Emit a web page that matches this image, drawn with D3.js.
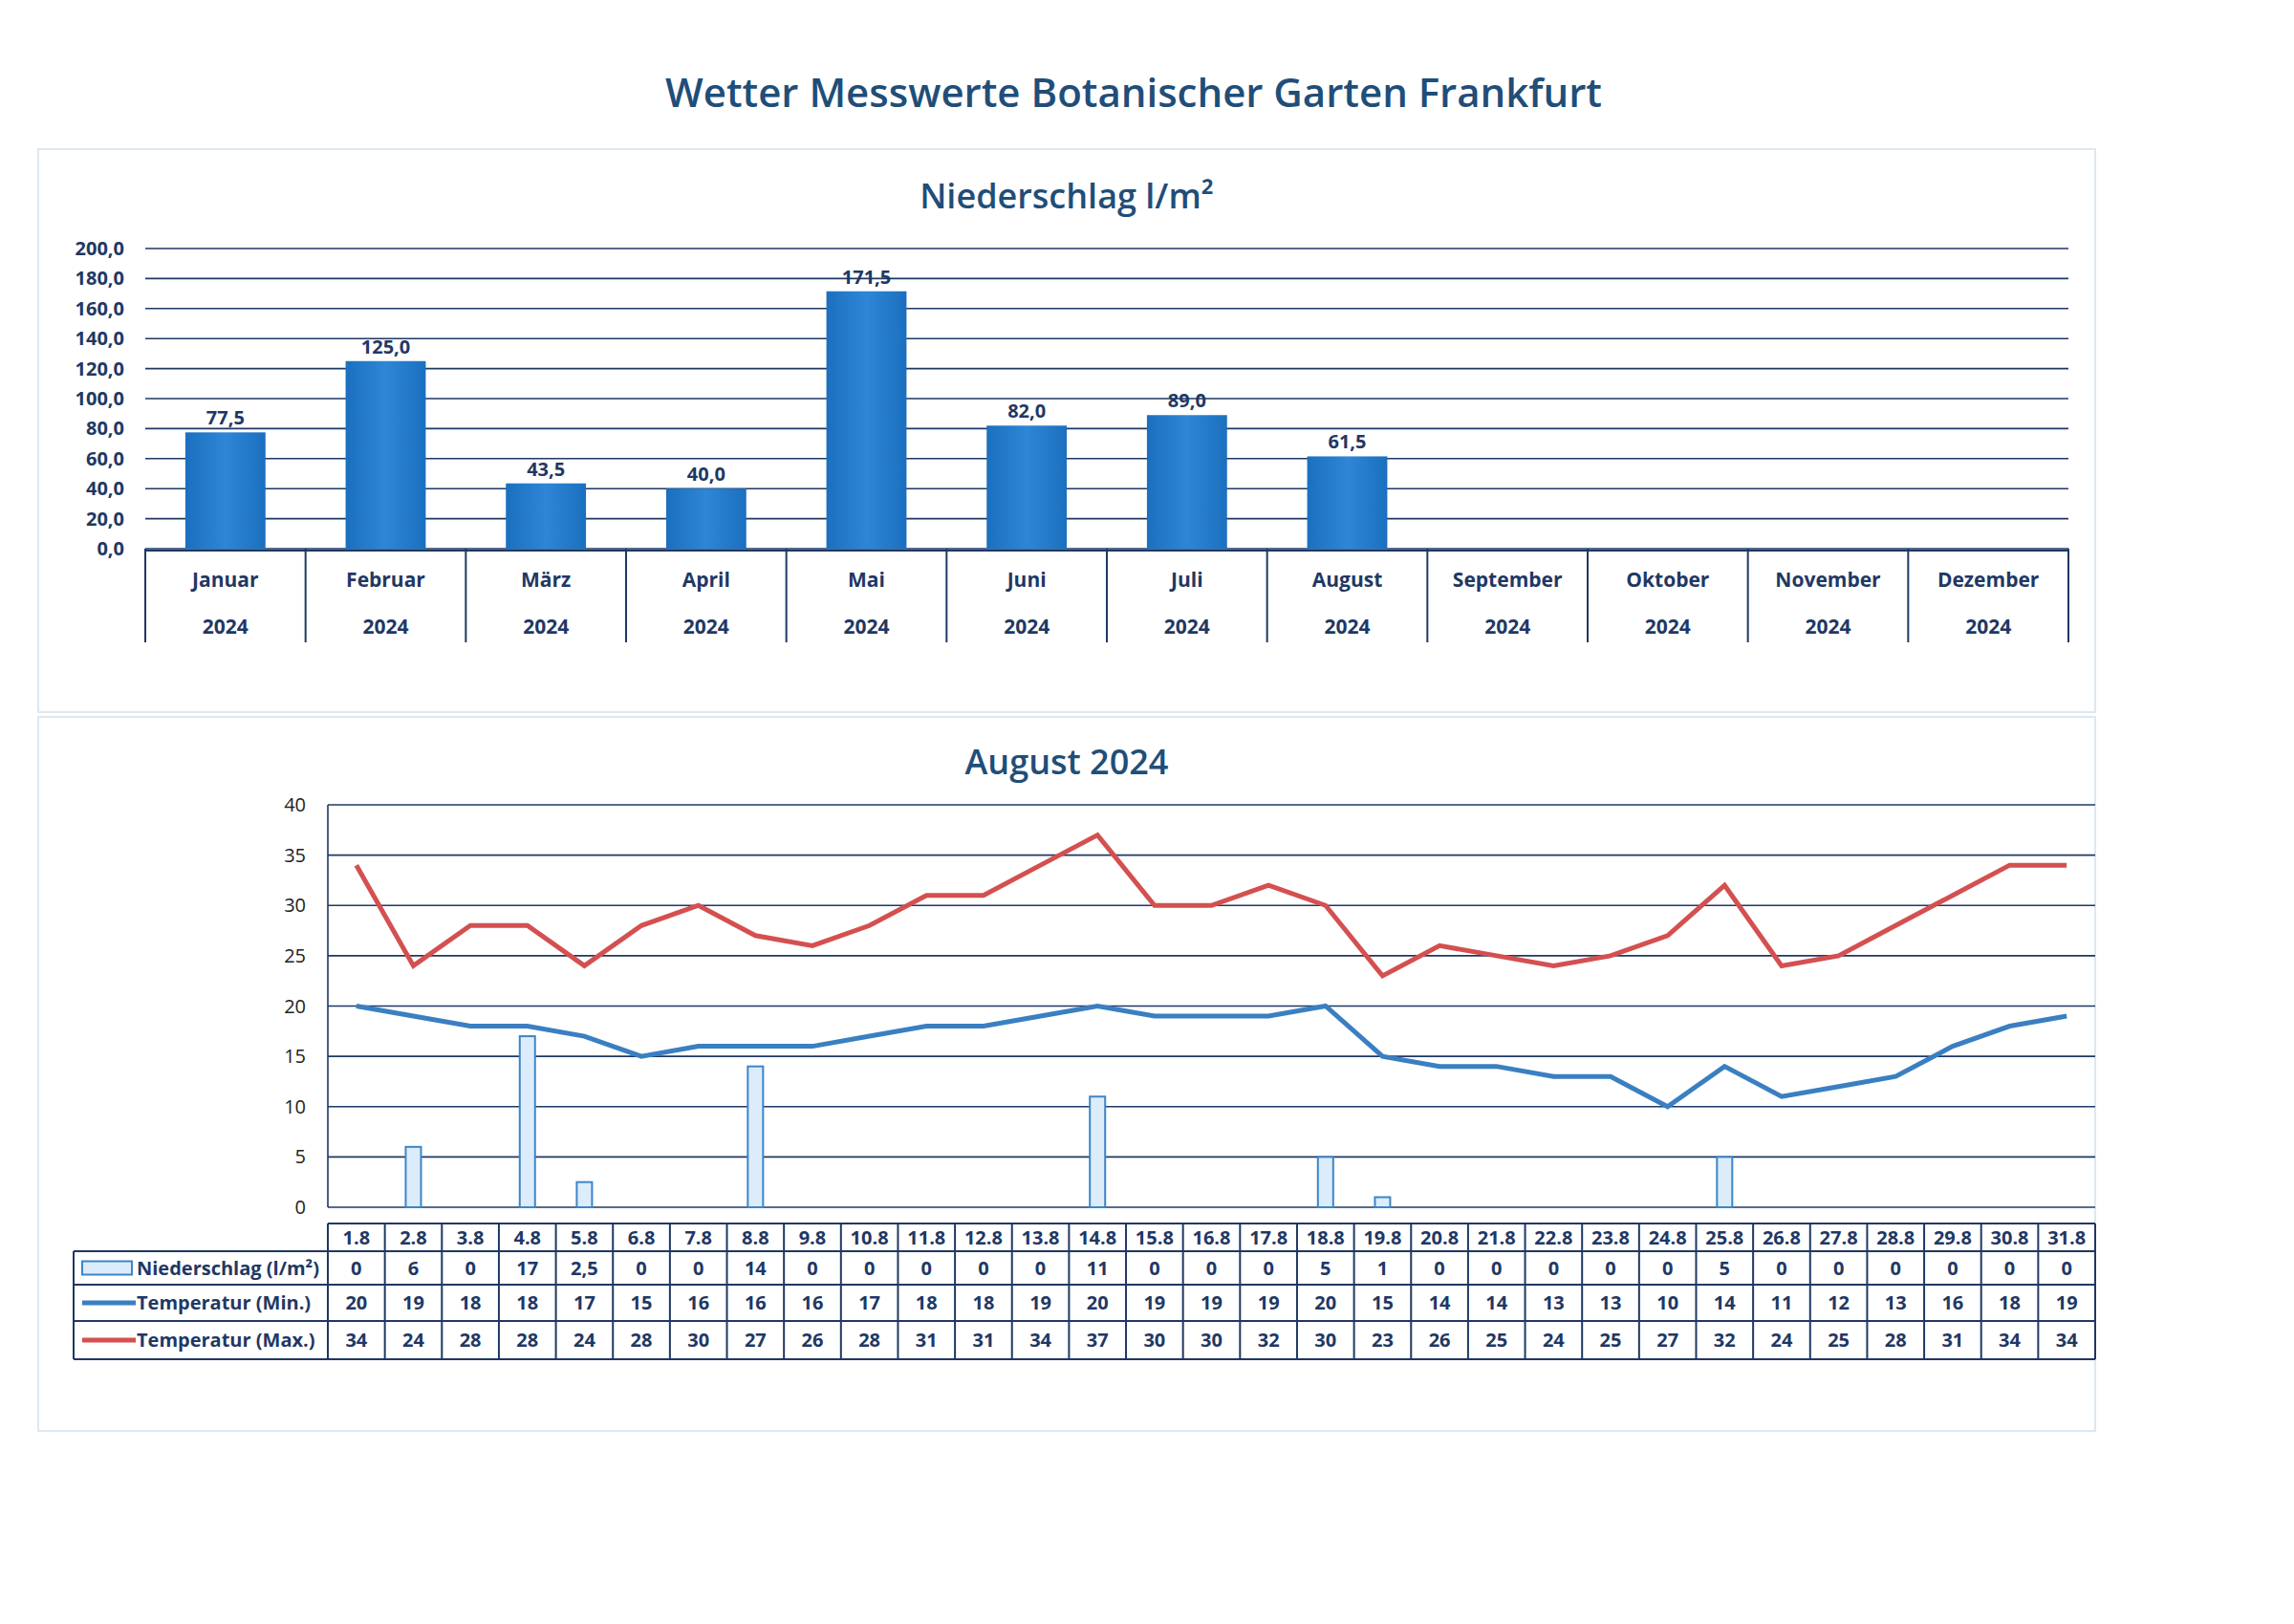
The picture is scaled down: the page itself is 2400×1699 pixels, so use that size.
<!DOCTYPE html><html><head><meta charset="utf-8">
<script src="https://cdn.jsdelivr.net/npm/d3@7"></script>
<style>body{margin:0;background:#fff}text{font-family:"Open Sans",sans-serif}</style></head><body>
<svg id="c" width="2400" height="1699"></svg>
<script>
const months=["Januar","Februar","März","April","Mai","Juni","Juli","August","September","Oktober","November","Dezember"];
const monthRain=[77.5,125.0,43.5,40.0,171.5,82.0,89.0,61.5,null,null,null,null];
const yearLabel="2024";
const days=["1.8","2.8","3.8","4.8","5.8","6.8","7.8","8.8","9.8","10.8","11.8","12.8","13.8","14.8","15.8","16.8","17.8","18.8","19.8","20.8","21.8","22.8","23.8","24.8","25.8","26.8","27.8","28.8","29.8","30.8","31.8"];
const rain=[0,6,0,17,2.5,0,0,14,0,0,0,0,0,11,0,0,0,5,1,0,0,0,0,0,5,0,0,0,0,0,0];
const tMin=[20,19,18,18,17,15,16,16,16,17,18,18,19,20,19,19,19,20,15,14,14,13,13,10,14,11,12,13,16,18,19];
const tMax=[34,24,28,28,24,28,30,27,26,28,31,31,34,37,30,30,32,30,23,26,25,24,25,27,32,24,25,28,31,34,34];
const topTicks=[0,20,40,60,80,100,120,140,160,180,200];
const botTicks=[0,5,10,15,20,25,30,35,40];

const svg=d3.select("#c"), navy="#1f4e79", grid="#1f3864";
const fmt=v=>v.toFixed(1).replace(".",",");
svg.append("text").attr("x",1186).attr("y",112).attr("text-anchor","middle").attr("font-size",42).attr("font-weight",600).attr("fill",navy).text("Wetter Messwerte Botanischer Garten Frankfurt");
svg.append("rect").attr("x",40).attr("y",156).attr("width",2152).attr("height",589).attr("fill","none").attr("stroke","#dde8f0").attr("stroke-width",2);
svg.append("rect").attr("x",40).attr("y",750).attr("width",2152).attr("height",747).attr("fill","none").attr("stroke","#dde8f0").attr("stroke-width",2);
svg.append("text").attr("x",1116).attr("y",218).attr("text-anchor","middle").attr("font-size",36).attr("font-weight",600).attr("fill",navy).text("Niederschlag l/m²");
svg.append("text").attr("x",1116).attr("y",810).attr("text-anchor","middle").attr("font-size",36).attr("font-weight",600).attr("fill",navy).text("August 2024");

// top chart
const x1=d3.scaleBand().domain(months).range([152,2164]).paddingInner(0.5).paddingOuter(0.25);
const xb=d3.scaleBand().domain(months).range([152,2164]);
const y1=d3.scaleLinear().domain([0,200]).range([574,260]);
const g1=svg.append("g");
g1.selectAll(".g").data(topTicks).join("line").attr("x1",152).attr("x2",2164).attr("y1",d=>y1(d)).attr("y2",d=>y1(d)).attr("stroke",grid).attr("stroke-width",1.6);
g1.selectAll(".t").data(topTicks).join("text").attr("x",130).attr("y",d=>y1(d)+7).attr("text-anchor","end").attr("font-size",20).attr("font-weight",700).attr("fill",grid).text(fmt);
const bd=months.map((m,i)=>({m,v:monthRain[i]})).filter(d=>d.v!=null);
const grad=svg.append("defs").append("linearGradient").attr("id","bg");
grad.append("stop").attr("offset","0").attr("stop-color","#1b6fbf");grad.append("stop").attr("offset","0.5").attr("stop-color","#2f86d6");grad.append("stop").attr("offset","1").attr("stop-color","#1b6fbf");
g1.selectAll(".b").data(bd).join("rect").attr("x",d=>xb(d.m)+xb.bandwidth()*0.25).attr("width",xb.bandwidth()*0.5).attr("y",d=>y1(d.v)).attr("height",d=>574-y1(d.v)).attr("fill","url(#bg)");
g1.selectAll(".bl").data(bd).join("text").attr("x",d=>xb(d.m)+xb.bandwidth()/2).attr("y",d=>y1(d.v)-8).attr("text-anchor","middle").attr("font-size",20).attr("font-weight",700).attr("fill",grid).text(d=>fmt(d.v));
g1.selectAll(".v").data(months.concat(["_"])).join("line").attr("x1",(d,i)=>152+i*xb.bandwidth()).attr("x2",(d,i)=>152+i*xb.bandwidth()).attr("y1",574).attr("y2",672).attr("stroke",grid).attr("stroke-width",2);
g1.append("line").attr("x1",152).attr("x2",2164).attr("y1",576).attr("y2",576).attr("stroke",grid).attr("stroke-width",2);
g1.selectAll(".m").data(months).join("text").attr("x",d=>xb(d)+xb.bandwidth()/2).attr("y",614).attr("text-anchor","middle").attr("font-size",21).attr("font-weight",700).attr("fill",grid).text(d=>d);
g1.selectAll(".yy").data(months).join("text").attr("x",d=>xb(d)+xb.bandwidth()/2).attr("y",663).attr("text-anchor","middle").attr("font-size",21).attr("font-weight",700).attr("fill",grid).text(yearLabel);

// bottom chart
const x2=d3.scaleBand().domain(days).range([343,2192]);
const y2=d3.scaleLinear().domain([0,40]).range([1263,842]);
const cx=d=>x2(d)+x2.bandwidth()/2;
const g2=svg.append("g");
g2.selectAll(".g").data(botTicks).join("line").attr("x1",343).attr("x2",2192).attr("y1",d=>y2(d)).attr("y2",d=>y2(d)).attr("stroke",grid).attr("stroke-width",1.6);
g2.append("line").attr("x1",343).attr("x2",343).attr("y1",842).attr("y2",1263).attr("stroke",grid).attr("stroke-width",1.6);
g2.selectAll(".t").data(botTicks).join("text").attr("x",320).attr("y",d=>y2(d)+7).attr("text-anchor","end").attr("font-size",20).attr("fill","#222").text(d=>d);
const rd=days.map((d,i)=>({d,v:rain[i]})).filter(d=>d.v>0);
g2.selectAll(".r").data(rd).join("rect").attr("x",d=>cx(d.d)-8).attr("width",16).attr("y",d=>y2(d.v)).attr("height",d=>1263-y2(d.v)).attr("fill","#dcecfb").attr("stroke","#3c86c8").attr("stroke-width",2);
const line=d3.line().x((v,i)=>cx(days[i])).y(v=>y2(v));
g2.append("path").attr("d",line(tMax)).attr("fill","none").attr("stroke","#d45050").attr("stroke-width",5);
g2.append("path").attr("d",line(tMin)).attr("fill","none").attr("stroke","#3a7fc1").attr("stroke-width",5);

// table
const rows=[1280,1309,1344,1382,1422];
const tg=svg.append("g");
tg.selectAll(".h").data(rows).join("line").attr("x1",(d,i)=>i==0?343:77).attr("x2",2192).attr("y1",d=>d).attr("y2",d=>d).attr("stroke",grid).attr("stroke-width",2);
const vx=days.map(d=>x2(d)).concat([2192]);
tg.selectAll(".vl").data(vx).join("line").attr("x1",d=>d).attr("x2",d=>d).attr("y1",1280).attr("y2",1422).attr("stroke",grid).attr("stroke-width",2);
tg.append("line").attr("x1",77).attr("x2",77).attr("y1",1309).attr("y2",1422).attr("stroke",grid).attr("stroke-width",2);
const series=[rain.map(v=>String(v).replace(".",",")),tMin.map(String),tMax.map(String)];
tg.selectAll(".dl").data(days).join("text").attr("x",cx).attr("y",1302).attr("text-anchor","middle").attr("font-size",20).attr("font-weight",700).attr("fill",grid).text(d=>d);
series.forEach((s,r)=>{tg.selectAll(".s"+r).data(s).join("text").attr("x",(v,i)=>cx(days[i])).attr("y",(rows[r+1]+rows[r+2])/2+7).attr("text-anchor","middle").attr("font-size",20).attr("font-weight",700).attr("fill",grid).text(v=>v);});
const names=["Niederschlag (l/m²)","Temperatur (Min.)","Temperatur (Max.)"];
names.forEach((n,r)=>{const yc=(rows[r+1]+rows[r+2])/2;
 if(r==0) tg.append("rect").attr("x",86).attr("y",yc-7).attr("width",52).attr("height",14).attr("fill","#dcecfb").attr("stroke","#3c86c8").attr("stroke-width",2);
 else tg.append("line").attr("x1",86).attr("x2",142).attr("y1",yc).attr("y2",yc).attr("stroke",r==1?"#3a7fc1":"#d45050").attr("stroke-width",5);
 tg.append("text").attr("x",143).attr("y",yc+7).attr("font-size",20).attr("font-weight",700).attr("fill",grid).text(n);});
</script></body></html>
